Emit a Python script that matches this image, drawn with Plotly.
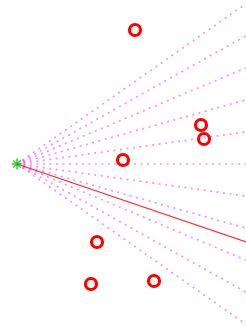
import plotly.graph_objects as go

# camera origin
origin_x = [0.0]
origin_y = [0.0]

# slopes of projection rays (dotted magenta)
ray_slopes = [-0.70, -0.56, -0.42, -0.28, -0.14, 0.0, 0.14, 0.28, 0.42, 0.56, 0.70]
ray_end_x = 26.0

# red line slope
red_slope = -0.34

# landmark points
pts_x = [11.8, 18.4, 18.7, 10.6, 8.0, 7.4, 13.7]
pts_y = [13.4, 3.9, 2.5, 0.4, -7.8, -12.0, -11.7]

fig = go.Figure()

for s in ray_slopes:
    fig.add_trace(go.Scatter(
        x=[origin_x[0], ray_end_x], y=[origin_y[0], origin_y[0] + s * ray_end_x],
        mode="lines",
        line=dict(color="rgba(255,0,255,0.45)", width=1.7, dash="2px,4.5px"),
        showlegend=False, hoverinfo="skip"))

fig.add_trace(go.Scatter(
    x=[origin_x[0], ray_end_x], y=[origin_y[0], origin_y[0] + red_slope * ray_end_x],
    mode="lines", line=dict(color="rgba(255,0,0,0.85)", width=1.3),
    showlegend=False, hoverinfo="skip"))

fig.add_trace(go.Scatter(
    x=pts_x, y=pts_y, mode="markers",
    marker=dict(symbol="circle-open", size=11, color="red", line=dict(width=3.2, color="red")),
    showlegend=False))

fig.add_trace(go.Scatter(
    x=origin_x, y=origin_y, mode="markers",
    marker=dict(symbol="asterisk-open", size=9, color="rgba(0,200,0,0.8)",
                line=dict(width=1.5, color="rgba(0,200,0,0.8)")),
    showlegend=False))

fig.update_layout(
    width=246, height=334,
    margin=dict(l=0, r=0, t=0, b=0),
    paper_bgcolor="white", plot_bgcolor="white",
    xaxis=dict(range=[-1.7, 22.9], visible=False, showgrid=False, zeroline=False),
    yaxis=dict(range=[-17.0, 16.4], visible=False, showgrid=False, zeroline=False),
)

fig.write_html("out.html", config={"displayModeBar": False},
               post_script="document.body.style.margin='0';document.body.style.overflow='hidden';")
